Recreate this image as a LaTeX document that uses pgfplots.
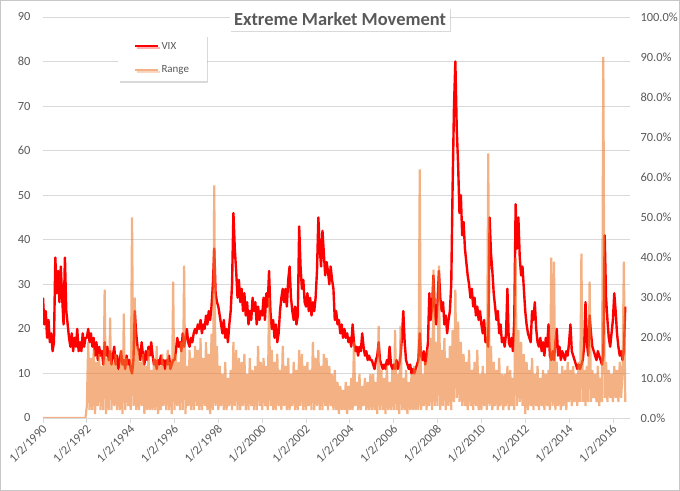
\documentclass[border=0pt]{standalone}
\usepackage{pgfplots}
\pgfplotsset{compat=1.18}
\usepackage{pgfplotstable}
\usepackage{fontspec}
\setmainfont{Carlito}
\usetikzlibrary{shadows}

\definecolor{vixred}{RGB}{255,0,0}
\definecolor{rangeorange}{RGB}{237,125,49}
\definecolor{gridgray}{RGB}{217,217,217}
\definecolor{textgray}{RGB}{89,89,89}

% VIX, 16 readings a year from 1/2/1990
\pgfplotstableread[row sep=\\]{
vix\\
27\\21\\24\\18\\22\\17\\19\\15\\17\\36\\28\\33\\26\\34\\27\\21\\
36\\24\\21\\18\\16\\19\\15\\18\\16\\20\\15\\17\\15\\19\\16\\18\\
18\\20\\17\\19\\16\\18\\14\\17\\13\\16\\14\\15\\12\\17\\14\\16\\
13\\15\\12\\14\\16\\12\\14\\11\\13\\15\\12\\13\\11\\14\\12\\13\\
11\\10\\13\\24\\19\\16\\15\\13\\17\\14\\12\\15\\13\\16\\14\\17\\
14\\12\\13\\11\\13\\12\\14\\12\\13\\11\\13\\12\\14\\11\\12\\13\\
13\\15\\18\\16\\17\\15\\19\\16\\18\\20\\17\\16\\18\\17\\19\\20\\
19\\21\\20\\22\\19\\21\\20\\23\\21\\24\\22\\25\\30\\38\\28\\26\\
25\\23\\21\\19\\22\\18\\20\\17\\21\\24\\30\\46\\38\\33\\27\\31\\
26\\29\\24\\28\\23\\26\\21\\24\\22\\27\\24\\26\\21\\25\\22\\24\\
23\\27\\22\\28\\25\\33\\24\\20\\22\\18\\21\\17\\19\\24\\27\\29\\
26\\29\\25\\31\\34\\27\\24\\22\\25\\21\\23\\43\\34\\29\\31\\26\\
25\\28\\24\\27\\23\\26\\24\\27\\33\\45\\38\\34\\42\\37\\32\\35\\
33\\30\\34\\31\\29\\22\\24\\21\\22\\19\\21\\18\\20\\18\\19\\17\\
18\\16\\21\\17\\15\\16\\14\\16\\15\\19\\16\\14\\15\\13\\14\\13\\
13\\12\\11\\13\\14\\17\\13\\12\\11\\12\\11\\13\\12\\16\\12\\11\\
12\\11\\13\\11\\12\\14\\18\\24\\17\\13\\12\\11\\12\\10\\11\\10\\
11\\12\\13\\19\\14\\13\\15\\12\\14\\17\\28\\22\\25\\32\\24\\21\\
26\\33\\27\\24\\26\\21\\23\\19\\22\\24\\30\\52\\70\\80\\65\\57\\
46\\50\\41\\44\\38\\35\\32\\30\\27\\29\\25\\27\\23\\25\\22\\24\\
21\\19\\22\\17\\18\\16\\45\\37\\33\\28\\25\\22\\24\\19\\21\\17\\
18\\16\\19\\29\\17\\16\\18\\15\\22\\48\\38\\45\\36\\32\\34\\29\\
24\\21\\19\\18\\17\\24\\22\\26\\20\\17\\16\\18\\15\\17\\14\\18\\
16\\21\\14\\13\\15\\13\\17\\20\\14\\16\\13\\15\\14\\13\\15\\14\\
17\\21\\15\\14\\13\\12\\11\\12\\11\\12\\13\\16\\26\\17\\14\\23\\
19\\16\\15\\14\\13\\15\\14\\13\\12\\14\\41\\27\\22\\18\\16\\19\\
22\\28\\24\\19\\16\\14\\15\\13\\15\\25\\
}\vixtab

% Range in percent, same spacing
\pgfplotstableread[row sep=\\]{
range\\
0\\0\\0\\0\\0\\0\\0\\0\\0\\0\\0\\0\\0\\0\\0\\0\\
0\\0\\0\\0\\0\\0\\0\\0\\0\\0\\0\\0\\0\\0\\0\\0\\
3\\19\\2\\15\\2\\17\\1\\14\\3\\16\\2\\13\\2\\32\\1\\15\\
2\\25\\2\\14\\3\\16\\2\\12\\2\\17\\1\\26\\2\\15\\3\\13\\
2\\50\\3\\30\\2\\18\\2\\14\\3\\16\\1\\13\\2\\17\\2\\12\\
2\\15\\2\\18\\1\\13\\2\\16\\3\\12\\2\\17\\2\\14\\1\\34\\
2\\16\\3\\14\\2\\19\\2\\38\\1\\13\\3\\17\\2\\15\\2\\18\\
3\\17\\2\\20\\2\\15\\3\\19\\2\\16\\1\\21\\2\\58\\3\\18\\
2\\13\\3\\11\\2\\14\\2\\10\\3\\12\\2\\19\\3\\17\\2\\15\\
2\\14\\3\\16\\2\\11\\2\\15\\3\\12\\2\\13\\2\\18\\3\\14\\
2\\15\\3\\13\\2\\30\\3\\17\\2\\14\\2\\16\\3\\12\\2\\18\\
3\\13\\2\\15\\2\\11\\3\\14\\2\\12\\2\\17\\3\\16\\2\\13\\
2\\14\\3\\12\\2\\19\\2\\15\\3\\17\\2\\13\\2\\16\\3\\15\\
2\\13\\3\\11\\2\\12\\2\\9\\1\\8\\2\\7\\2\\9\\1\\8\\
2\\10\\2\\19\\3\\9\\2\\11\\2\\8\\3\\10\\2\\9\\2\\11\\
2\\11\\2\\9\\1\\23\\2\\12\\2\\10\\1\\13\\2\\9\\2\\12\\
2\\22\\2\\11\\1\\23\\2\\10\\2\\12\\1\\9\\2\\11\\2\\13\\
2\\12\\2\\62\\2\\11\\3\\14\\2\\17\\3\\20\\2\\37\\3\\19\\
3\\38\\2\\17\\3\\20\\2\\15\\3\\18\\2\\22\\4\\32\\5\\24\\
4\\19\\3\\16\\3\\14\\2\\17\\3\\12\\2\\14\\3\\17\\2\\11\\
2\\13\\3\\11\\2\\66\\3\\18\\2\\14\\3\\12\\2\\15\\3\\11\\
2\\11\\3\\13\\2\\12\\3\\10\\2\\40\\3\\22\\4\\19\\3\\16\\
1\\14\\2\\12\\3\\15\\2\\11\\3\\13\\2\\10\\3\\12\\2\\11\\
3\\12\\2\\40\\3\\39\\2\\14\\3\\11\\2\\13\\3\\12\\2\\14\\
4\\12\\3\\13\\4\\11\\3\\14\\4\\41\\4\\12\\3\\13\\4\\34\\
4\\12\\5\\11\\4\\13\\3\\10\\4\\90\\5\\14\\4\\12\\5\\11\\
4\\13\\5\\12\\4\\14\\5\\11\\39\\4\\
}\rangetab

\pgfplotsset{
  every tick label/.append style={font=\fontsize{12.5}{14}\selectfont, text=textgray},
  /pgf/number format/assume math mode=true,
}

\begin{document}
\begin{tikzpicture}
\useasboundingbox (0,0) rectangle (680bp,491bp);
\draw[black!22] (0.5bp,0.5bp) rectangle (679.5bp,490.5bp);

\begin{axis}[
  at={(43bp,73bp)}, anchor=south west,
  width=587bp, height=401bp, scale only axis,
  xmin=1990, xmax=2016.78,
  ymin=0, ymax=90,
  ytick={0,10,...,90},
  xtick={1990,1992,...,2016},
  xticklabels={1/2/1990,1/2/1992,1/2/1994,1/2/1996,1/2/1998,1/2/2000,1/2/2002,
    1/2/2004,1/2/2006,1/2/2008,1/2/2010,1/2/2012,1/2/2014,1/2/2016},
  xticklabel style={rotate=45, anchor=east, xshift=2bp, yshift=-4bp},
  yticklabel style={xshift=-4bp},
  axis line style={draw=none},
  ymajorgrids, grid style={gridgray, line width=0.8pt},
  xtick pos=bottom, ytick pos=left,
  tick align=outside, major tick length=5bp,
  xtick style={draw=gridgray, line width=0.8pt},
  ytick style={draw=none},
  title={Extreme Market Movement},
  every axis title shift=0pt,
  title style={at={(0.506,0.995)}, anchor=center, yshift=0pt, fill=white,
    font=\bfseries\fontsize{18.5}{22}\selectfont, text=textgray,
    inner xsep=4bp, inner ysep=5bp,
    drop shadow={shadow xshift=1.2bp, shadow yshift=-1.8bp, opacity=0.3}},
]
\addplot[vixred, line width=2.4pt, line join=round] table[x expr=1990+\coordindex/16, y=vix] {\vixtab};
\end{axis}

\begin{axis}[
  at={(43bp,73bp)}, anchor=south west,
  width=587bp, height=401bp, scale only axis,
  xmin=1990, xmax=2016.78,
  ymin=0, ymax=100,
  ytick={0,10,...,100},
  yticklabel={\pgfmathprintnumber[fixed,fixed zerofill,precision=1]{\tick}\%},
  yticklabel style={xshift=7bp},
  axis x line=none, axis y line*=right,
  axis line style={draw=none},
  ytick style={draw=none},
  legend style={at={(0.128,0.955)}, anchor=north west, draw=none, fill=white,
    font=\fontsize{11}{13}\selectfont, text=textgray,
    inner xsep=16bp, inner ysep=5bp, row sep=11bp,
    drop shadow={shadow xshift=1.2bp, shadow yshift=-1.8bp, opacity=0.3}},
  legend cell align=left,
  legend image code/.code={\path (0bp,0bp) -- (3bp,0bp); \draw[#1] (3bp,0bp) -- (23bp,0bp);},
]
\addlegendimage{vixred, line width=2pt}
\addlegendentry{VIX}
\addplot[rangeorange, draw opacity=0.6, line width=2.2pt, line join=bevel] table[x expr=1990+\coordindex/16, y=range] {\rangetab};
\addlegendentry{Range}
\end{axis}
\end{tikzpicture}
\end{document}
